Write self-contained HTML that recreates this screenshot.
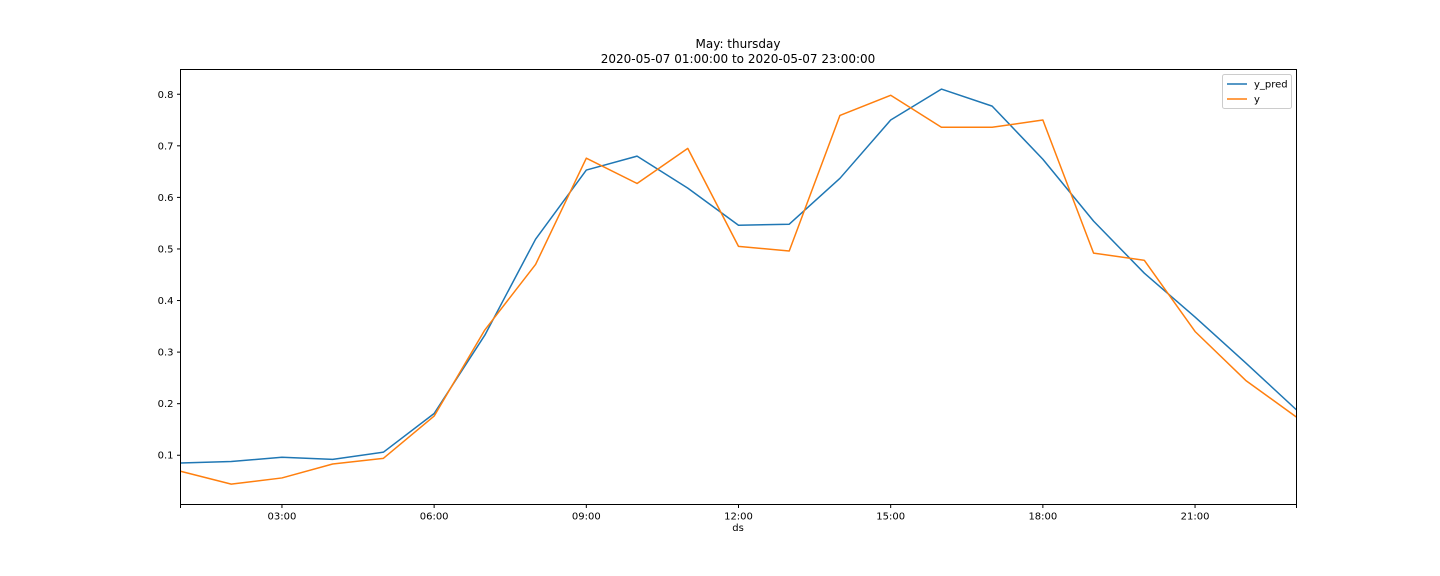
<!DOCTYPE html>
<html><head><meta charset="utf-8"><style>
html,body{margin:0;padding:0;background:#fff;}
svg{display:block;font-family:"DejaVu Sans","Liberation Sans",sans-serif;}
</style></head><body>
<svg id="chart" width="1440" height="576" viewBox="0 0 1440 576">
<text x="738" y="48" font-size="12" text-anchor="middle">May: thursday</text>
<text x="738" y="63" font-size="12" text-anchor="middle">2020-05-07 01:00:00 to 2020-05-07 23:00:00</text>
<g id="axes"></g>
<g id="series"></g>
<rect x="180.5" y="69.5" width="1116" height="435" fill="none" stroke="#000" stroke-width="1"/>
<text x="738" y="531" font-size="10" text-anchor="middle">ds</text>
<g>
<rect x="1222.5" y="74.5" width="69" height="34" rx="2" fill="#fff" stroke="#ccc"/>
<line x1="1227" y1="84" x2="1247" y2="84" stroke="#1f77b4" stroke-width="1.5"/>
<text x="1254" y="87.5" font-size="10">y_pred</text>
<line x1="1227" y1="99" x2="1247" y2="99" stroke="#ff7f0e" stroke-width="1.5"/>
<text x="1254" y="102.5" font-size="10">y</text>
</g>
</svg>
<script>
const hours = [1,2,3,4,5,6,7,8,9,10,11,12,13,14,15,16,17,18,19,20,21,22,23];
const yPred = [0.085,0.088,0.096,0.092,0.106,0.181,0.333,0.519,0.653,0.680,0.618,0.546,0.548,0.637,0.750,0.810,0.777,0.674,0.554,0.453,0.368,0.279,0.188];
const yActual = [0.069,0.044,0.056,0.083,0.094,0.176,0.343,0.470,0.676,0.627,0.695,0.505,0.496,0.759,0.798,0.736,0.736,0.750,0.492,0.478,0.340,0.245,0.174];
const yTicks = [0.1,0.2,0.3,0.4,0.5,0.6,0.7,0.8];
const xTicks = [3,6,9,12,15,18,21];
const xTickLabels = ["03:00","06:00","09:00","12:00","15:00","18:00","21:00"];

const NS="http://www.w3.org/2000/svg";
const X0=180.5,X1=1296.5,Y0=504.5,Y1=69.5;
const xMin=1,xMax=23,yMin=0.0045,yMax=0.848;
const xs=h=>X0+(h-xMin)/(xMax-xMin)*(X1-X0);
const ys=v=>Y0-(v-yMin)/(yMax-yMin)*(Y0-Y1);
function mk(t,a,p){const e=document.createElementNS(NS,t);for(const k in a)e.setAttribute(k,a[k]);p.appendChild(e);return e;}
const axes=document.getElementById('axes');
yTicks.forEach(v=>{
  const y=ys(v);
  const l=mk('line',{x1:X0-3.5,x2:X0,y1:y,y2:y,stroke:'#000'},axes);
  
  
  const t=mk('text',{x:X0-7,y:y+3.5,'font-size':10,'text-anchor':'end'},axes);
  
  
  t.textContent=v.toFixed(1);
});
xTicks.forEach((h,i)=>{
  const x=xs(h);
  const l=mk('line',{x1:x,x2:x,y1:Y0,y2:Y0+3.5,stroke:'#000'},axes);
  
  
  const t=mk('text',{x:x,y:Y0+15,'font-size':10,'text-anchor':'middle'},axes);
  
  
  t.textContent=xTickLabels[i];
});
[xMin,xMax].forEach(h=>{
  const l=mk('line',{x1:xs(h),x2:xs(h),y1:Y0,y2:Y0+3.5,stroke:'#000'},axes);
  
  
});
const series=document.getElementById('series');
function line(vals,color,name){
  const d=vals.map((v,i)=>(i?'L':'M')+xs(hours[i]).toFixed(2)+','+ys(v).toFixed(2)).join('');
  const p=mk('path',{d:d,fill:'none',stroke:color,'stroke-width':1.5,'stroke-linejoin':'round'},series);
  
  
}
line(yPred,'#1f77b4','y-pred-line');
line(yActual,'#ff7f0e','y-line');
</script>
</body></html>
